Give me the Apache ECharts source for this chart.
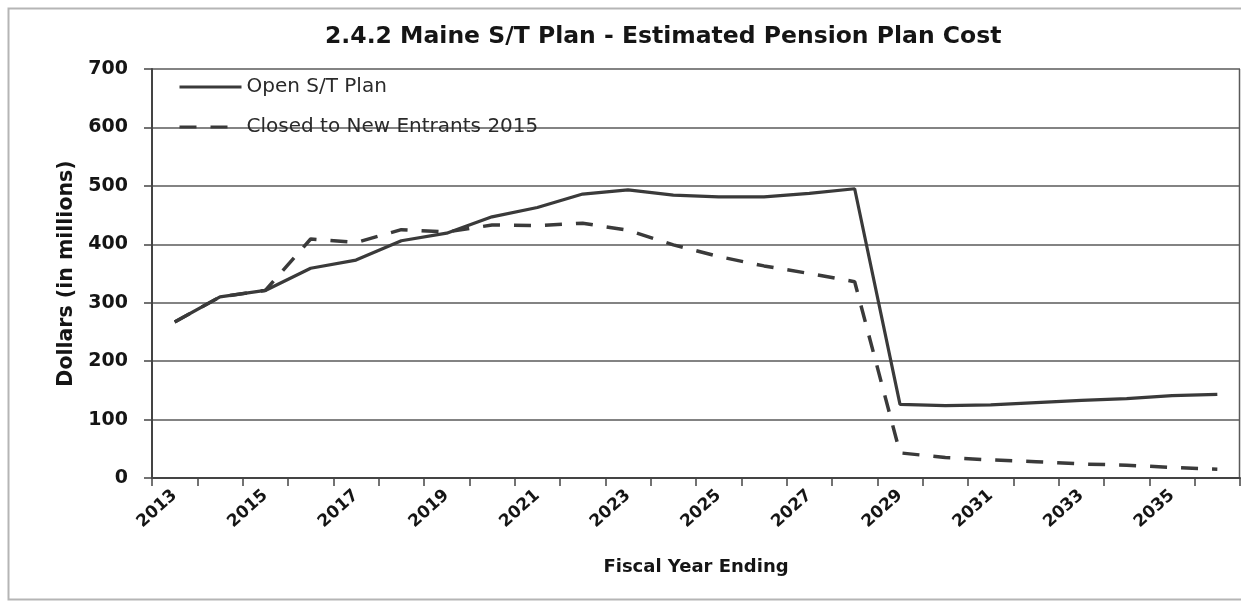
<!DOCTYPE html>
<html>
<head>
<meta charset="utf-8">
<title>Maine S/T Plan - Estimated Pension Plan Cost</title>
<script src="https://cdn.jsdelivr.net/npm/echarts@6/dist/echarts.min.js"></script>
<style>
  html, body { margin: 0; padding: 0; background: #fff; }
  #chart { width: 1241px; height: 602px; }
</style>
</head>
<body>
<div id="chart"></div>
<script>
// fiscal years on the x axis
var years = ['2013', '2014', '2015', '2016', '2017', '2018', '2019', '2020', '2021', '2022', '2023', '2024',
  '2025', '2026', '2027', '2028', '2029', '2030', '2031', '2032', '2033', '2034', '2035', '2036'];
// dollars in millions
var openPlan = [267, 310, 321, 359, 373, 406, 419, 447, 463, 486, 493, 484,
  481, 481, 487, 495, 126, 124, 125, 129, 133, 136, 141, 143];
var closedPlan = [267, 310, 321, 409, 403, 425, 421, 433, 432, 436, 424, 399,
  379, 363, 350, 336, 43, 35, 31, 28, 24, 22, 18, 15];
var yTicks = [0, 100, 200, 300, 400, 500, 600, 700];

var lineColor = '#3a3a3a';
var font = 'DejaVu Sans';

var chart = echarts.init(document.getElementById('chart'));
var option = {
  backgroundColor: '#fff',
  animation: false,
  title: {
    text: '2.4.2 Maine S/T Plan - Estimated Pension Plan Cost',
    left: 325,
    top: 25,
    padding: 0,
    textStyle: { fontFamily: font, fontWeight: 'bold', fontSize: 23.5, color: '#151515' }
  },
  legend: {
    orient: 'vertical',
    left: 178,
    top: 77,
    padding: 0,
    itemWidth: 62,
    itemHeight: 20,
    itemGap: 20,
    // line only, no marker in the key
    itemStyle: { opacity: 0 },
    lineStyle: { width: 3 },
    textStyle: { fontFamily: font, fontSize: 20, color: '#2a2a2a' },
    data: ['Open S/T Plan', 'Closed to New Entrants 2015']
  },
  grid: { left: 152, right: 1, top: 69, bottom: 124, containLabel: false },
  xAxis: {
    type: 'category',
    data: years,
    boundaryGap: true,
    name: 'Fiscal Year Ending',
    nameLocation: 'middle',
    nameGap: 80,
    nameTextStyle: { fontFamily: font, fontWeight: 'bold', fontSize: 18, color: '#151515' },
    axisLine: { lineStyle: { color: '#444', width: 2 } },
    axisTick: { show: true, interval: 0, length: 8, lineStyle: { color: '#444', width: 1.5 } },
    axisLabel: {
      interval: 1,
      rotate: 42,
      margin: 15,
      fontFamily: font,
      fontWeight: 'bold',
      fontSize: 17,
      color: '#151515'
    },
    splitLine: { show: false }
  },
  yAxis: {
    type: 'value',
    min: yTicks[0],
    max: yTicks[yTicks.length - 1],
    interval: 100,
    name: 'Dollars (in millions)',
    nameLocation: 'middle',
    nameGap: 74,
    nameTextStyle: { fontFamily: font, fontWeight: 'bold', fontSize: 20.5, color: '#151515' },
    axisLine: { show: true, lineStyle: { color: '#444', width: 2 } },
    axisTick: { show: true, length: 8, lineStyle: { color: '#444', width: 1.5 } },
    axisLabel: { margin: 24, fontFamily: font, fontWeight: 'bold', fontSize: 19, color: '#151515' },
    splitLine: { lineStyle: { color: '#5a5a5a', width: 1.5 } }
  },
  graphic: [{
    // outer chart frame, cut off on the right like the source
    type: 'rect',
    silent: true,
    z: -10,
    shape: { x: 8.5, y: 8.5, width: 1245, height: 591 },
    style: { fill: null, stroke: '#b5b5b5', lineWidth: 2 }
  }, {
    // plot area right border
    type: 'line',
    silent: true,
    shape: { x1: 1239.5, y1: 69, x2: 1239.5, y2: 478 },
    style: { stroke: '#5a5a5a', lineWidth: 1.5 }
  }],
  series: [{
    name: 'Closed to New Entrants 2015',
    type: 'line',
    data: closedPlan,
    symbol: 'none',
    z: 2,
    lineStyle: { color: lineColor, width: 3.5, type: [17, 14] },
    itemStyle: { color: lineColor }
  }, {
    name: 'Open S/T Plan',
    type: 'line',
    data: openPlan,
    symbol: 'none',
    z: 3,
    lineStyle: { color: lineColor, width: 3.2, type: 'solid' },
    itemStyle: { color: lineColor }
  }]
};
chart.setOption(option);
</script>
</body>
</html>
